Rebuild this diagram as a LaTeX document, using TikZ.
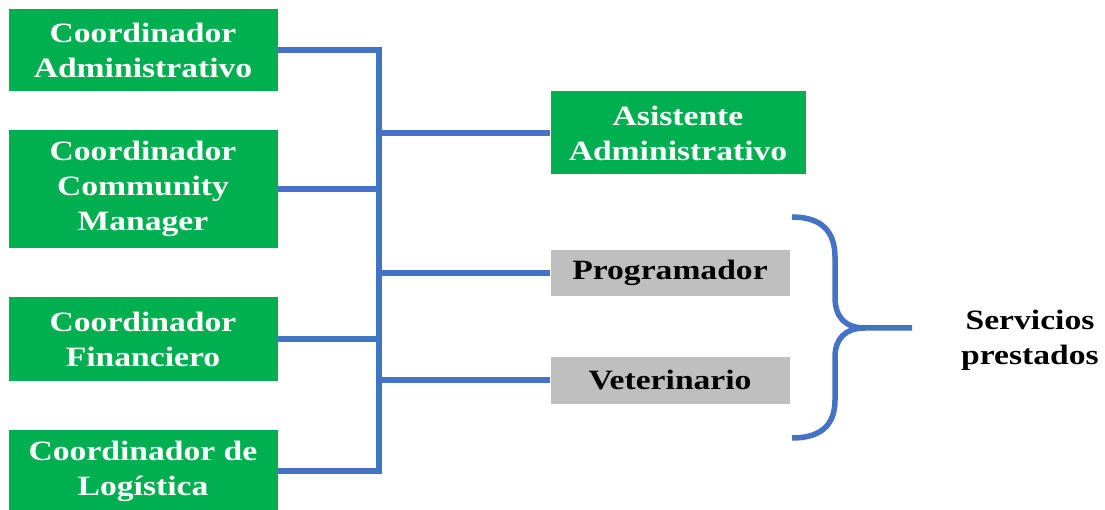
\documentclass[tikz,border=0pt]{standalone}
\usepackage{fontspec}
\setmainfont{Liberation Serif}[FakeStretch=1.2]
\usepackage{tikz}
\definecolor{boxgreen}{RGB}{0,176,80}
\definecolor{boxgray}{RGB}{191,191,191}
\definecolor{busblue}{RGB}{68,114,196}

\begin{document}
\begin{tikzpicture}[x=1pt, y=-1pt,
        green box/.style={rectangle, fill=boxgreen, text=white, inner sep=0pt, align=center,
            font=\fontsize{28}{35}\selectfont\bfseries},
        gray box/.style={rectangle, fill=boxgray, text=black, inner sep=0pt, align=center,
            font=\fontsize{28}{35}\selectfont\bfseries},
        bus/.style={draw=busblue, line width=6.5pt}]
        \useasboundingbox (0, 0) rectangle (1105, 510);

        % Coordinadores
        \node[green box, minimum width=269pt, minimum height=82pt] (1) at (143, 50) {Coordinador\\Administrativo};
        \node[green box, minimum width=269pt, minimum height=118pt] (2) at (143, 189) {Coordinador\\Community\\Manager};
        \node[green box, minimum width=269pt, minimum height=83pt] (3) at (143, 339) {Coordinador\\Financiero};
        \node[green box, minimum width=269pt, minimum height=82pt] (4) at (143, 471) {Coordinador de\\Log\'istica};

        % Asistente y servicios
        \node[green box, minimum width=255pt, minimum height=83pt] (5) at (678, 133) {Asistente\\Administrativo};
        \node[gray box, minimum width=239pt, minimum height=46pt] (6) at (670, 273) {Programador};
        \node[gray box, minimum width=239pt, minimum height=47pt] (7) at (670, 380) {Veterinario};

        \node[align=center, font=\fontsize{28}{35}\selectfont\bfseries] (8) at (1030, 340) {Servicios\\prestados};

        \coordinate (t) at (379, 0);
        \coordinate (tip) at (912, 328);

        \draw[bus] (1.east) -| (t |- 4.east) -- (4.east);
        \draw[bus] (2.east) -- (2.east -| t);
        \draw[bus] (3.east) -- (3.east -| t);
        \draw[bus] (t |- 5.west) -- (5.west);
        \draw[bus] (t |- 6.west) -- (6.west);
        \draw[bus] (t |- 7.west) -- (7.west);

        % Llave
        \draw[draw=busblue, line width=5.5pt] (792, 217) .. controls (822, 217) and (835, 232) .. (835, 257)
            -- (835, 297) .. controls (835, 317) and (845, 328) .. (865, 328) -- (tip);
        \draw[draw=busblue, line width=5.5pt] (865, 328) .. controls (845, 328) and (835, 339) .. (835, 357)
            -- (835, 400) .. controls (835, 424) and (822, 438) .. (792, 438);
    \end{tikzpicture}
\end{document}
